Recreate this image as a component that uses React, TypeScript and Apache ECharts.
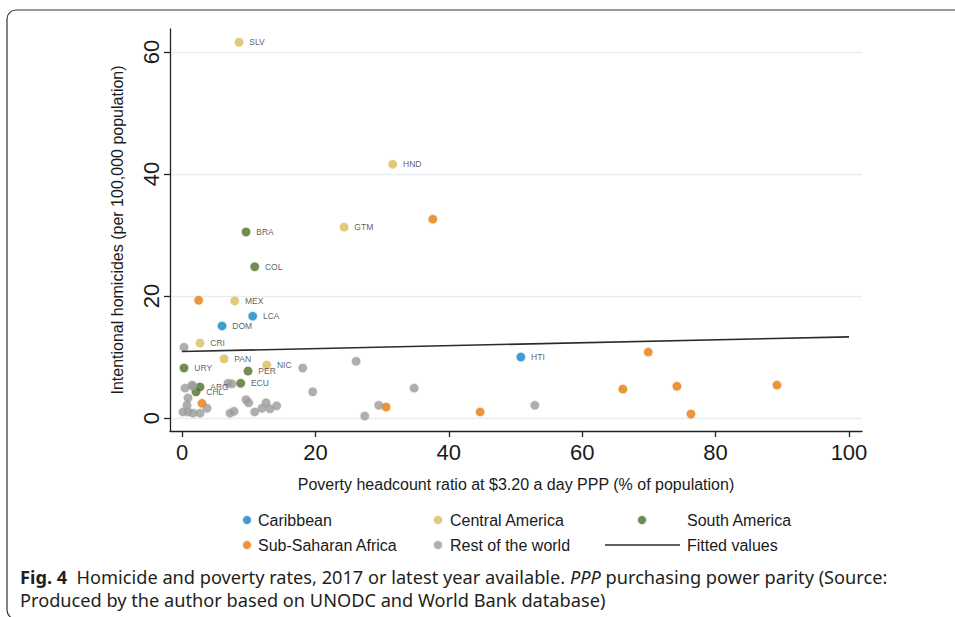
import React, { useEffect, useRef } from 'react';
import * as echarts from 'echarts';

// [poverty %, homicides per 100k, country code]
const caribbean: [number, number, string][] = [
  [6.0, 15.1, 'DOM'],
  [10.6, 16.7, 'LCA'],
  [50.8, 10.0, 'HTI'],
];
const centralAmerica: [number, number, string][] = [
  [8.55, 61.6, 'SLV'],
  [31.6, 41.6, 'HND'],
  [24.3, 31.3, 'GTM'],
  [7.9, 19.2, 'MEX'],
  [2.7, 12.3, 'CRI'],
  [6.3, 9.7, 'PAN'],
  [12.7, 8.7, 'NIC'],
];
const southAmerica: [number, number, string][] = [
  [9.6, 30.5, 'BRA'],
  [10.9, 24.8, 'COL'],
  [0.3, 8.2, 'URY'],
  [9.9, 7.7, 'PER'],
  [8.8, 5.7, 'ECU'],
  [2.7, 5.1, 'ARG'],
  [2.1, 4.3, 'CHL'],
];
const subSaharanAfrica: [number, number][] = [
  [37.6, 32.6], [2.5, 19.3], [69.9, 10.8], [66.1, 4.75], [74.2, 5.2],
  [89.2, 5.4], [76.3, 0.66], [44.7, 1.0], [30.6, 1.8], [3.0, 2.4],
];
const restOfWorld: [number, number][] = [
  [0.3, 11.6], [18.1, 8.2], [26.1, 9.3], [19.6, 4.3], [29.5, 2.1],
  [27.4, 0.33], [34.8, 4.9], [52.9, 2.1], [0.45, 4.9], [1.5, 5.4],
  [1.65, 5.2], [0.9, 3.3], [0.75, 2.1], [0.15, 1.0], [0.9, 1.0],
  [1.65, 0.8], [2.7, 0.8], [3.75, 1.6], [6.9, 5.7], [7.5, 5.6],
  [9.6, 3.0], [10.0, 2.5], [10.9, 1.0], [12.0, 1.6], [12.6, 2.5],
  [13.2, 1.5], [14.2, 2.0], [7.2, 0.8], [7.8, 1.1],
];
const fittedLine: [number, number][] = [
  [0, 10.9],
  [100, 13.3],
];
const xTicks = [0, 20, 40, 60, 80, 100];
const yTicks = [0, 20, 40, 60];

const FONT = "'Liberation Sans', Arial, sans-serif";
const NARROW = "'Liberation Sans Narrow', 'Arial Narrow', 'Liberation Sans', sans-serif";
const CAPTION = "'Noto Sans', 'Open Sans', sans-serif";

const colors = {
  caribbean: '#1386c6',
  central: '#d9bd5a',
  south: '#4e7027',
  africa: '#e87a0c',
  rest: '#9b9b9b',
  fit: '#2b2b2b',
};

function halo(c: string) {
  return c + '33';
}

function scatter(name: string, data: any[], color: string, labelled: boolean) {
  return {
    name,
    type: 'scatter',
    data,
    symbol: 'circle',
    symbolSize: 8.5,
    itemStyle: { color, borderColor: halo(color), borderWidth: 2 },
    label: labelled
      ? {
          show: true,
          position: 'right',
          distance: 5,
          formatter: (p: any) => p.value[2] || '',
          fontSize: 8.5,
          fontFamily: FONT,
          color: '#333',
        }
      : { show: false },
    emphasis: { disabled: true },
    z: 3,
  };
}

function legendItem(name: string, left: number, top: number, pad: number, extra: any = {}) {
  return {
    data: [name],
    left,
    top,
    orient: 'horizontal',
    selectedMode: false,
    itemWidth: 8,
    itemHeight: 8,
    icon: 'circle',
    textStyle: {
      fontSize: 16,
      fontFamily: FONT,
      color: '#1a1a1a',
      padding: [0, 0, 0, pad],
    },
    ...extra,
  };
}

export default function App() {
  const ref = useRef<HTMLDivElement>(null);
  useEffect(() => {
    if (!ref.current) return;
    const chart = echarts.init(ref.current, null, { renderer: 'svg' });
    const option: any = {
      animation: false,
      backgroundColor: '#ffffff',
      grid: { left: 170, right: 93, top: 29, bottom: 186, containLabel: false },
      xAxis: {
        type: 'value',
        min: -1.8,
        max: 101.95,
        name: 'Poverty headcount ratio at $3.20 a day PPP (% of population)',
        nameLocation: 'middle',
        nameGap: 45,
        nameTextStyle: { fontSize: 16, fontFamily: FONT, color: '#1a1a1a' },
        axisLine: { show: true, onZero: false, lineStyle: { color: '#222', width: 1.3 } },
        axisTick: { show: true, length: 6, customValues: xTicks, lineStyle: { color: '#222', width: 1.3 } },
        axisLabel: { customValues: xTicks, fontSize: 22, fontFamily: NARROW, color: '#1a1a1a', margin: 10 },
        splitLine: { show: false },
      },
      yAxis: {
        type: 'value',
        min: -2.13,
        max: 63.77,
        name: 'Intentional homicides (per 100,000 population)',
        nameLocation: 'middle',
        nameRotate: 90,
        nameGap: 45,
        nameTextStyle: { fontSize: 16, fontFamily: FONT, color: '#1a1a1a' },
        axisLine: { show: true, onZero: false, lineStyle: { color: '#222', width: 1.3 } },
        axisTick: { show: true, length: 6, customValues: yTicks, lineStyle: { color: '#222', width: 1.3 } },
        axisLabel: { customValues: yTicks, rotate: 90, fontSize: 22, fontFamily: NARROW, color: '#1a1a1a', margin: 8 },
        splitLine: { show: true, lineStyle: { color: '#e6eef2', width: 1.3 } },
      },
      legend: [
        legendItem('Caribbean', 237, 507, 2),
        legendItem('Central America', 428, 507, 3),
        legendItem('South America', 632, 507, 36),
        legendItem('Sub-Saharan Africa', 237, 532, 2),
        legendItem('Rest of the world', 428, 532, 3),
        legendItem('Fitted values', 600, 532, 2, { icon: 'rect', itemWidth: 75, itemHeight: 1.5 }),
      ],
      series: [
        scatter('Caribbean', caribbean, colors.caribbean, true),
        scatter('Central America', centralAmerica, colors.central, true),
        scatter('South America', southAmerica, colors.south, true),
        scatter('Sub-Saharan Africa', subSaharanAfrica, colors.africa, false),
        scatter('Rest of the world', restOfWorld, colors.rest, false),
        {
          name: 'Fitted values',
          type: 'line',
          data: fittedLine,
          symbol: 'none',
          showSymbol: false,
          lineStyle: { color: colors.fit, width: 1.6 },
          itemStyle: { color: colors.fit },
          emphasis: { disabled: true },
          z: 4,
        },
      ],
      graphic: [
        {
          type: 'rect',
          shape: { x: 7, y: 10, width: 1000, height: 609, r: 9 },
          style: { fill: 'none', stroke: '#333', lineWidth: 1.2 },
          silent: true,
        },
        {
          type: 'text',
          left: 20,
          top: 565,
          silent: true,
          style: {
            text:
              '{b|Fig. 4}  Homicide and poverty rates, 2017 or latest year available. {i|PPP} purchasing power parity (Source:\nProduced by the author based on UNODC and World Bank database)',
            fontSize: 18.2,
            fontFamily: CAPTION,
            fill: '#231f20',
            lineHeight: 23,
            rich: {
              b: { fontSize: 18.2, fontFamily: CAPTION, fontWeight: 'bold', fill: '#231f20', lineHeight: 23 },
              i: { fontSize: 18.2, fontFamily: CAPTION, fontStyle: 'italic', fill: '#231f20', lineHeight: 23 },
            },
          },
        },
      ],
    };
    chart.setOption(option);
    return () => chart.dispose();
  }, []);
  return (
    <div
      ref={ref}
      style={{ position: 'fixed', left: 0, top: 0, width: 955, height: 617 }}
    />
  );
}
